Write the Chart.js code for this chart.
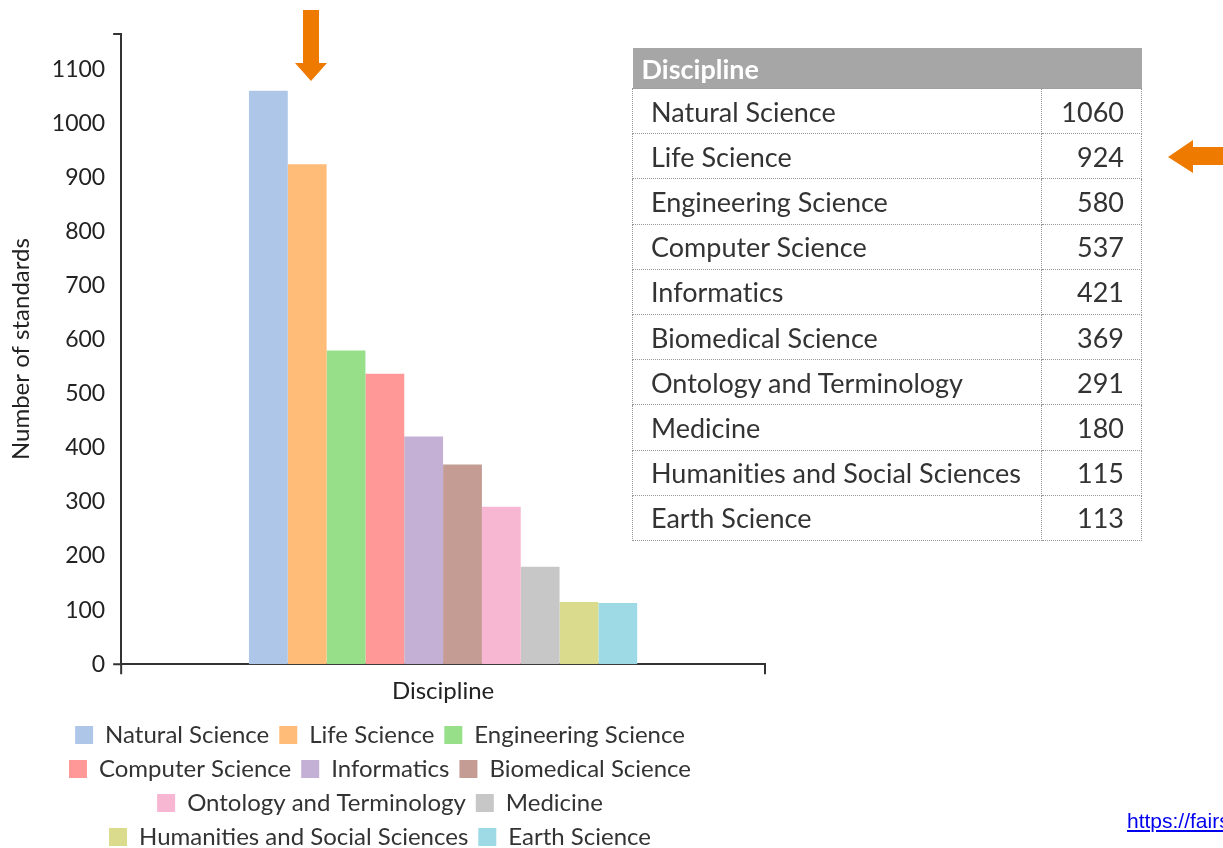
<!DOCTYPE html>
<html>
<head>
<meta charset="utf-8">
<script src="https://cdn.jsdelivr.net/npm/chart.js@4.4.1/dist/chart.umd.min.js"></script>
<style>
  html, body { margin: 0; padding: 0; background: #fff; }
  body { width: 1223px; height: 848px; position: relative; overflow: hidden; font-family: Lato, sans-serif; }
  #chartBox { position: absolute; left: 0; top: 0; width: 780px; height: 859px; }
  #tbl { position: absolute; left: 632px; top: 48px; width: 510px; border-collapse: collapse; color: #333; font-size: 27px; font-variant-ligatures: none; }
  #tbl th { background: #a6a6a6; color: #fff; font-weight: bold; font-size: 27px; text-align: left; height: 40px; padding: 0 0 0 9px; }
  #tbl td { border: 1px dotted #999; height: 44.2px; padding: 0 17px 0 18px; }
  #tbl td.num { text-align: right; width: 64px; }
  #link { position: absolute; left: 1127px; top: 809px; font-family: "Liberation Sans", Arial, sans-serif; font-size: 21px; color: #0000ee; text-decoration: underline; white-space: nowrap; }
  svg { position: absolute; left: 0; top: 0; }
</style>
</head>
<body>
<div id="chartBox"><canvas id="disciplineChart"></canvas></div>
<table id="tbl"><thead><tr><th colspan="2">Discipline</th></tr></thead><tbody></tbody></table>
<svg width="1223" height="848">
  <polygon points="303,10 319,10 319,63 327,63 311,81 295,63 303,63" fill="#ee7b00"/>
  <polygon points="1223,147 1193,147 1193,140 1168,157 1193,173 1193,165 1223,165" fill="#ee7b00"/>
</svg>
<div id="link">https://fairsharing.org/</div>
<script>
const disciplines = ['Natural Science', 'Life Science', 'Engineering Science', 'Computer Science',
  'Informatics', 'Biomedical Science', 'Ontology and Terminology', 'Medicine',
  'Humanities and Social Sciences', 'Earth Science'];
const counts = [1060, 924, 580, 537, 421, 369, 291, 180, 115, 113];
const yTicks = [0, 100, 200, 300, 400, 500, 600, 700, 800, 900, 1000, 1100];
const colors = ['#aec7e8', '#ffbb78', '#98df8a', '#ff9896', '#c5b0d5',
  '#c49c94', '#f7b6d2', '#c7c7c7', '#dbdb8d', '#9edae5'];

// table on the right
const tbody = document.querySelector('#tbl tbody');
disciplines.forEach((d, i) => {
  const tr = document.createElement('tr');
  tr.innerHTML = '<td>' + d + '</td><td class="num">' + counts[i] + '</td>';
  tbody.appendChild(tr);
});

// little axis end marks, and nudge the legend a bit left like the original
const axisEnds = {
  id: 'axisEnds',
  afterLayout(chart) {
    chart.legend.left -= 6;
    chart.legend.right -= 6;
  },
  afterDraw(chart) {
    const { ctx, chartArea: { left, right, top, bottom } } = chart;
    ctx.save();
    ctx.strokeStyle = '#333';
    ctx.lineWidth = 2;
    ctx.beginPath();
    ctx.moveTo(left - 8, top); ctx.lineTo(left, top);
    ctx.moveTo(left - 8, bottom); ctx.lineTo(left, bottom);
    ctx.moveTo(left, bottom); ctx.lineTo(left, bottom + 10);
    ctx.moveTo(right, bottom); ctx.lineTo(right, bottom + 10);
    ctx.stroke();
    ctx.restore();
  }
};

Chart.defaults.font.family = 'Lato';
Chart.defaults.color = '#222';

const ctx = document.getElementById('disciplineChart').getContext('2d');
ctx.textRendering = 'optimizeSpeed';
new Chart(ctx, {
  type: 'bar',
  data: {
    labels: [''],
    datasets: disciplines.map((d, i) => ({
      label: d,
      data: [counts[i]],
      backgroundColor: colors[i],
      categoryPercentage: 0.603,
      barPercentage: 1
    }))
  },
  options: {
    responsive: true,
    maintainAspectRatio: false,
    animation: false,
    layout: { padding: { top: 34, left: 7, right: 15, bottom: 0 } },
    plugins: {
      tooltip: { enabled: false },
      legend: {
        position: 'bottom',
        labels: { font: { size: 24 }, color: '#333', boxWidth: 18, boxHeight: 18, padding: 10 }
      }
    },
    scales: {
      x: {
        grid: { display: false },
        border: { display: true, color: '#333', width: 2 },
        ticks: { display: false },
        title: { display: true, text: 'Discipline', font: { size: 24 }, color: '#222', padding: { top: 5, bottom: 7 } }
      },
      y: {
        min: 0,
        max: 1165,
        afterBuildTicks(scale) {
          scale.ticks = yTicks.map(v => ({ value: v }));
        },
        grid: { display: false, drawTicks: false },
        border: { display: true, color: '#333', width: 2 },
        ticks: { font: { size: 23 }, color: '#222', padding: 16, callback: v => String(v) },
        title: { display: true, text: 'Number of standards', font: { size: 24 }, color: '#222', padding: { top: 0, bottom: 0 } }
      }
    }
  },
  plugins: [axisEnds]
});
</script>
</body>
</html>
